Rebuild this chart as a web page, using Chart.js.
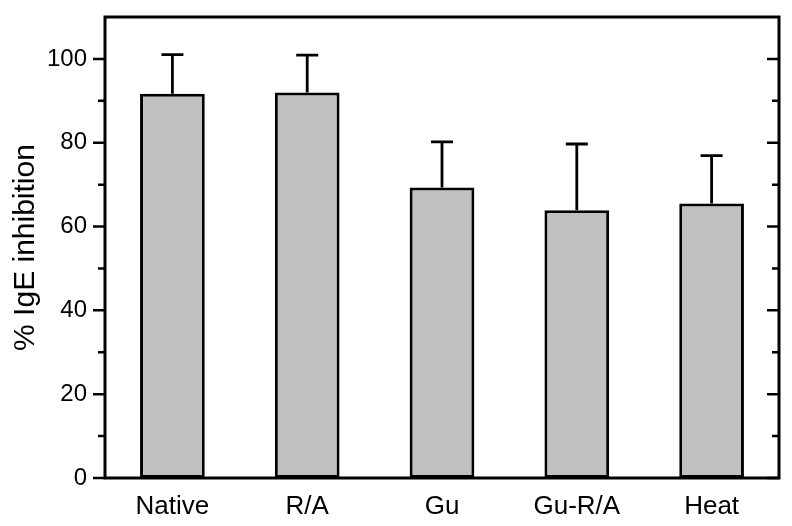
<!DOCTYPE html>
<html>
<head>
<meta charset="utf-8">
<script src="https://cdn.jsdelivr.net/npm/chart.js@4"></script>
<style>
  body { margin: 0; background: #fff; }
  #wrap { width: 792px; height: 526px; }
</style>
</head>
<body>
<div id="wrap"><canvas id="myChart"></canvas></div>
<script>
// values
const groups = ['Native', 'R/A', 'Gu', 'Gu-R/A', 'Heat'];
const inhibition = [91.7, 92.0, 69.3, 63.9, 65.5];
const errorTop = [101.0, 100.9, 80.2, 79.7, 76.9];
const majorTicks = [0, 20, 40, 60, 80, 100];
const minorTicks = [10, 30, 50, 70, 90];

// error bars + boxed frame with ticks
const framePlugin = {
    id: 'frame',
    afterDatasetsDraw(chart) {
        const c = chart.ctx;
        const y = chart.scales.y;
        const meta = chart.getDatasetMeta(0);
        c.save();
        c.strokeStyle = '#000';
        c.lineWidth = 2.8;
        meta.data.forEach(function(bar, i) {
            const top = y.getPixelForValue(errorTop[i]);
            c.beginPath();
            c.moveTo(bar.x, bar.y);
            c.lineTo(bar.x, top);
            c.moveTo(bar.x - 11, top);
            c.lineTo(bar.x + 11, top);
            c.stroke();
        });
        c.restore();
    },
    afterDraw(chart) {
        const c = chart.ctx;
        const a = chart.chartArea;
        const y = chart.scales.y;
        c.save();
        c.strokeStyle = '#000';
        c.lineWidth = 3;
        c.strokeRect(a.left, a.top, a.right - a.left, a.bottom - a.top);
        c.lineWidth = 2.5;
        c.beginPath();
        majorTicks.forEach(function(v) {
            const py = y.getPixelForValue(v);
            c.moveTo(a.left - 12, py); c.lineTo(a.left, py);
            c.moveTo(a.right - 12, py); c.lineTo(a.right, py);
        });
        minorTicks.forEach(function(v) {
            const py = y.getPixelForValue(v);
            c.moveTo(a.left - 7, py); c.lineTo(a.left, py);
            c.moveTo(a.right - 7, py); c.lineTo(a.right, py);
        });
        c.stroke();
        c.restore();
    }
};

const ctx = document.getElementById('myChart');
const myChart = new Chart(ctx, {
    type: 'bar',
    data: {
        labels: groups,
        datasets: [{
            data: inhibition,
            backgroundColor: '#c0c0c0',
            borderColor: '#000',
            borderWidth: 3,
            borderSkipped: false,
            categoryPercentage: 1.0,
            barPercentage: 0.48
        }]
    },
    options: {
        responsive: true,
        maintainAspectRatio: false,
        animation: false,
        layout: { padding: { top: 17, right: 13, left: 0, bottom: 0 } },
        plugins: {
            legend: { display: false },
            tooltip: { enabled: false }
        },
        scales: {
            x: {
                grid: { display: false, drawTicks: false },
                border: { display: false },
                ticks: {
                    color: '#000',
                    padding: 13,
                    font: { family: 'Liberation Sans', size: 26 }
                },
                afterFit: function(scale) { scale.height = 48; }
            },
            y: {
                min: 0,
                max: 110,
                grid: { display: false, drawTicks: false },
                border: { display: false },
                afterBuildTicks: function(scale) {
                    scale.ticks = majorTicks.map(v => ({ value: v }));
                },
                ticks: {
                    color: '#000',
                    padding: 18,
                    font: { family: 'Liberation Sans', size: 24 }
                },
                title: {
                    display: true,
                    text: '% IgE inhibition',
                    color: '#000',
                    padding: { top: 8, bottom: 0 },
                    font: { family: 'Liberation Sans', size: 30 }
                },
                afterFit: function(scale) {
                    scale.width = 105;
                    scale.paddingTop = 0;
                    scale.paddingBottom = 0;
                }
            }
        }
    },
    plugins: [framePlugin]
});
</script>
</body>
</html>
